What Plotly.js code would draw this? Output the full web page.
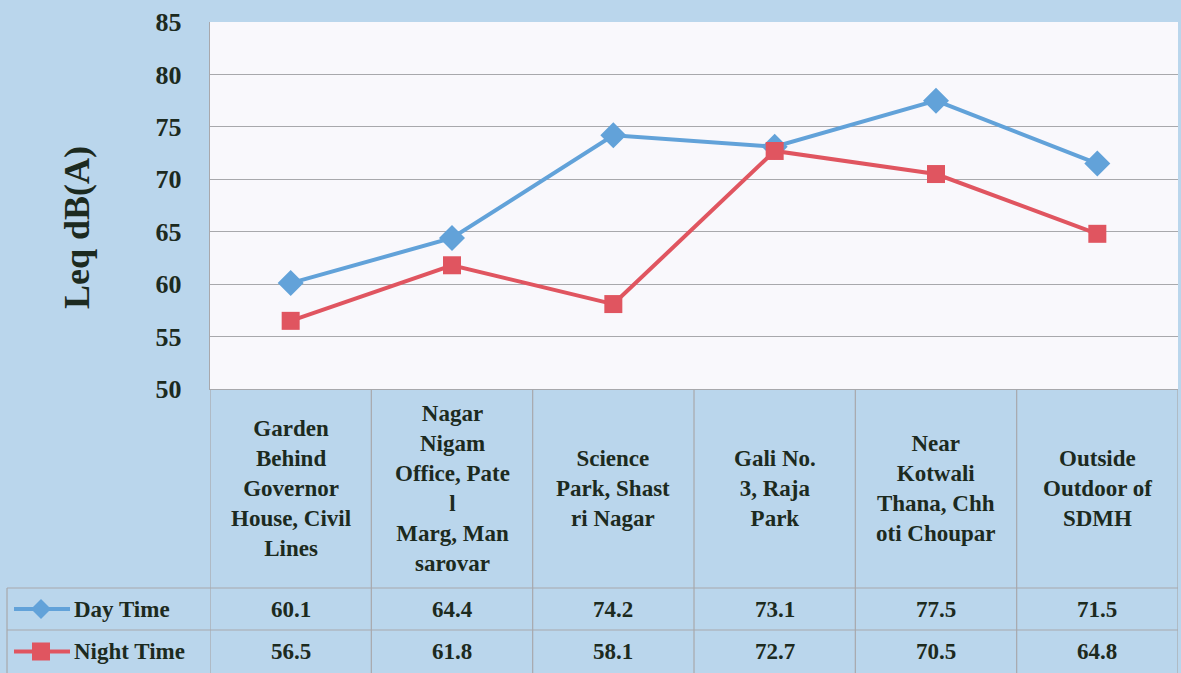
<!DOCTYPE html>
<html>
<head>
<meta charset="utf-8">
<script src="https://cdn.plot.ly/plotly-3.0.1.min.js"></script>
<style>
html,body{margin:0;padding:0;background:#bad6ec;}
#chart{width:1181px;height:673px;}
</style>
</head>
<body>
<div id="chart"></div>
<script>
// ---- data ----
const categories = [
  "Garden<br>Behind<br>Governor<br>House, Civil<br>Lines",
  "Nagar<br>Nigam<br>Office, Pate<br>l<br>Marg, Man<br>sarovar",
  "Science<br>Park, Shast<br>ri Nagar",
  "Gali No.<br>3, Raja<br>Park",
  "Near<br>Kotwali<br>Thana, Chh<br>oti Choupar",
  "Outside<br>Outdoor of<br>SDMH"
];
const seriesNames = ["Day Time", "Night Time"];
const dayTime = [60.1, 64.4, 74.2, 73.1, 77.5, 71.5];
const nightTime = [56.5, 61.8, 58.1, 72.7, 70.5, 64.8];
const yTicks = [50, 55, 60, 65, 70, 75, 80, 85];
const yTitle = "Leq dB(A)";

// ---- styles ----
const W = 1181, H = 673;
const L = 210, R = 3, T = 22, B = 284;
const plotH = H - T - B, plotW = W - L - R;
const txt = '#1c2a20';
const font = 'Liberation Serif';
const gridC = '#a8a8ac';
const blue = '#62a2d9', red = '#e05560';

const px2py = p => (H - B - p) / plotH;   // pixel y -> paper y
const px2px = p => (p - L) / plotW;       // pixel x -> paper x

const idx = categories.map((c, i) => i);

const traces = [
  {x: idx, y: dayTime, name: seriesNames[0], type: 'scatter', mode: 'lines+markers',
   line: {color: blue, width: 4}, marker: {symbol: 'diamond', size: 20, color: blue}},
  {x: idx, y: nightTime, name: seriesNames[1], type: 'scatter', mode: 'lines+markers',
   line: {color: red, width: 4}, marker: {symbol: 'square', size: 18, color: red}}
];

const rowTop = px2py(389), row1 = px2py(588), row2 = px2py(630), rowBot = px2py(673);
const leftX = px2px(7);

const shapes = [];
const lineStyle = () => ({color: gridC, width: 1.2});
for (let i = 0; i <= categories.length; i++) {
  shapes.push({type: 'line', xref: 'x', yref: 'paper', x0: i - 0.5, x1: i - 0.5,
    y0: rowBot, y1: rowTop, line: lineStyle(), layer: 'above'});
}
[row1, row2].forEach(y => shapes.push({type: 'line', xref: 'paper', yref: 'paper',
  x0: leftX, x1: 1, y0: y, y1: y, line: lineStyle()}));
shapes.push({type: 'line', xref: 'paper', yref: 'paper', x0: leftX, x1: leftX,
  y0: rowBot, y1: row1, line: lineStyle()});

// legend keys inside table
const keyY = [(row1 + row2) / 2, (row2 + rowBot) / 2];
const keyX0 = px2px(14), keyX1 = px2px(70), keyXm = px2px(41);
const dx = 10 / plotW, dy = 10 / plotH, sq = 9;
shapes.push({type: 'line', xref: 'paper', yref: 'paper', x0: keyX0, x1: keyX1, y0: keyY[0], y1: keyY[0],
  line: {color: blue, width: 4}});
shapes.push({type: 'path', xref: 'paper', yref: 'paper',
  path: `M ${keyXm - dx} ${keyY[0]} L ${keyXm} ${keyY[0] + dy} L ${keyXm + dx} ${keyY[0]} L ${keyXm} ${keyY[0] - dy} Z`,
  fillcolor: blue, line: {width: 0}});
shapes.push({type: 'line', xref: 'paper', yref: 'paper', x0: keyX0, x1: keyX1, y0: keyY[1], y1: keyY[1],
  line: {color: red, width: 4}});
shapes.push({type: 'rect', xref: 'paper', yref: 'paper',
  x0: keyXm - sq / plotW, x1: keyXm + sq / plotW, y0: keyY[1] - sq / plotH, y1: keyY[1] + sq / plotH,
  fillcolor: red, line: {width: 0}});

const annotations = [];
const cellFont = () => ({family: font, size: 23, color: txt});
categories.forEach((c, i) => {
  annotations.push({xref: 'x', yref: 'paper', x: i, y: (rowTop + row1) / 2, text: '<b>' + c + '</b>',
    showarrow: false, font: cellFont(), align: 'center', xanchor: 'center', yanchor: 'middle'});
  annotations.push({xref: 'x', yref: 'paper', x: i, y: keyY[0], text: '<b>' + dayTime[i].toFixed(1) + '</b>',
    showarrow: false, font: cellFont(), xanchor: 'center', yanchor: 'middle'});
  annotations.push({xref: 'x', yref: 'paper', x: i, y: keyY[1], text: '<b>' + nightTime[i].toFixed(1) + '</b>',
    showarrow: false, font: cellFont(), xanchor: 'center', yanchor: 'middle'});
});
seriesNames.forEach((n, k) => {
  annotations.push({xref: 'paper', yref: 'paper', x: px2px(72), y: keyY[k], text: '<b>' + n + '</b>',
    showarrow: false, font: cellFont(), xanchor: 'left', yanchor: 'middle'});
});
annotations.push({xref: 'paper', yref: 'paper', x: px2px(77), y: px2py(228), text: '<b>' + yTitle + '</b>',
  textangle: -90, showarrow: false, font: {family: font, size: 36, color: txt},
  xanchor: 'center', yanchor: 'middle'});

const layout = {
  width: W, height: H,
  margin: {l: L, r: R, t: T, b: B, pad: 0},
  paper_bgcolor: '#bad6ec',
  plot_bgcolor: '#f9f8fc',
  showlegend: false,
  font: {family: font, color: txt},
  xaxis: {
    range: [-0.5, categories.length - 0.5], showticklabels: false, showgrid: false,
    zeroline: false, showline: true, linecolor: gridC, linewidth: 1.2, fixedrange: true
  },
  yaxis: {
    range: [50, 85], tickvals: yTicks, ticktext: yTicks.map(v => '<b>' + v + '</b>'),
    showgrid: true, gridcolor: gridC, gridwidth: 1.2, zeroline: false,
    showline: true, linecolor: gridC, linewidth: 1.2,
    ticks: 'outside', ticklen: 22, tickcolor: 'rgba(0,0,0,0)',
    tickfont: {family: font, size: 26, color: txt},
    automargin: false
  },
  shapes: shapes,
  annotations: annotations
};

Plotly.newPlot('chart', traces, layout, {displayModeBar: false, staticPlot: true});
</script>
</body>
</html>
